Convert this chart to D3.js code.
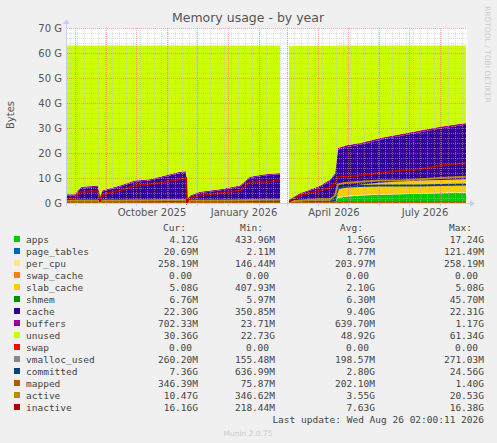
<!DOCTYPE html>
<html><head><meta charset="utf-8">
<script src="https://cdn.jsdelivr.net/npm/d3@7"></script>
<style>body{margin:0;background:#f0f0f0}</style>
</head><body><div id="app"></div>
<script>
// sample dates, null marks the gap in the data
const dates = ['2025-07-24','2025-08-01','2025-08-06','2025-08-08','2025-08-24','2025-08-26','2025-08-28','2025-09-15','2025-09-30','2025-10-15','2025-10-30','2025-11-14','2025-11-20','2025-11-21','2025-11-24','2025-12-04','2025-12-24','2026-01-13','2026-01-23','2026-02-07','2026-02-22',
  null,
  '2026-03-03','2026-03-14','2026-04-03','2026-04-13','2026-04-18','2026-04-21','2026-04-28','2026-05-13','2026-06-02','2026-06-22','2026-07-12','2026-08-01','2026-08-27'];

// values in GB, same order as dates
const apps        = [.3,.3,.3,.3,.3,.3,.3,.3,.3,.3,.3,.3,.3,.3,.3,.3,.3,.3,.3,.3,.3, null, .3,.3,.3,.3,.4,2,2.5,3,3.3,3.5,3.7,3.9,4.12];
const page_tables = [.02,.02,.02,.02,.02,.02,.02,.02,.02,.02,.02,.02,.02,.02,.02,.02,.02,.02,.02,.02,.02, null, .02,.02,.02,.02,.02,.02,.02,.02,.02,.02,.02,.02,.02];
const per_cpu     = [.15,.15,.15,.15,.15,.15,.15,.15,.15,.15,.15,.15,.15,.15,.15,.15,.15,.15,.15,.15,.15, null, .2,.2,.2,.2,.2,.26,.26,.26,.26,.26,.26,.26,.26];
const swap_cache  = [0,0,0,0,0,0,0,0,0,0,0,0,0,0,0,0,0,0,0,0,0, null, 0,0,0,0,0,0,0,0,0,0,0,0,0];
const slab_cache  = [.5,.5,.5,.5,.5,.5,.5,.5,.5,.5,.5,.5,.5,.5,.5,.5,.5,.5,.5,.5,.5, null, .5,.5,.6,.6,1,3,3.5,4,4.5,4.8,5,5,5.08];
const shmem       = [.01,.01,.01,.01,.01,.01,.01,.01,.01,.01,.01,.01,.01,.01,.01,.01,.01,.01,.01,.01,.01, null, .01,.01,.01,.01,.01,.01,.01,.01,.01,.01,.01,.01,.01];
const cache       = [2,2,4.5,5,5.5,0,3.5,5.5,7.5,8,9.5,11,11.2,0,1.5,3,4,5.5,9,10,10.5, null, .1,2.4,5.3,7.8,9.7,16,16,16,17.2,18.2,19.3,20.6,21.8];
const buffers     = [.5,.5,.5,.5,.5,.5,.5,.5,.5,.5,.5,.5,.5,.5,.5,.5,.5,.5,.5,.5,.5, null, .3,.5,.5,.5,.6,.7,.7,.7,.7,.7,.7,.7,.7];
const unused      = [59.5,59.5,57,56.5,56,61.5,58,56,54,53.5,52,50.5,50.3,61.5,60,58.5,57.5,56,52.5,51.5,51, null, 61.5,59,56,53.5,51,41,40,39,37,35.5,34,32.5,31];

const swap         = [0,0,0,0,0,0,0,0,0,0,0,0,0,0,0,0,0,0,0,0,0, null, 0,0,0,0,0,0,0,0,0,0,0,0,0];
const vmalloc_used = [.2,.2,.2,.2,.2,.2,.2,.2,.2,.2,.2,.2,.2,.2,.2,.2,.2,.2,.2,.2,.2, null, .2,.2,.2,.2,.2,.25,.25,.25,.25,.25,.26,.26,.26];
const committed    = [.3,.3,.3,.3,.3,.1,.3,.3,.3,.5,.5,.6,.6,.1,.4,.4,.4,.5,.5,.7,.8, null, .2,.3,.5,.6,1,6,6.5,6.8,7,7,7,7.2,7.36];
const mapped       = [.2,.2,.2,.2,.2,.1,.2,.2,.2,.2,.2,.2,.2,.1,.2,.2,.2,.2,.2,.2,.2, null, .1,.2,.2,.2,.2,.3,.3,.3,.3,.3,.35,.35,.35];
const active       = [1,1,1,1,1,.3,1,1,1.1,1.1,1.2,1.2,1.2,.3,1,1,1,1.1,1.2,1.3,1.3, null, .5,1,1.5,1.5,3,7.5,8,8.5,9,9,9.5,10,10.5];
const inactive     = [1.5,2,4.5,4.5,4.8,.5,3.5,5,7,7.5,8.5,9.5,10,.3,2,3,4,5,8.5,8.5,9, null, .5,3,5,6,8,10.5,10.5,11,12,13,13.5,15,16];

const areaNames = ['apps','page_tables','per_cpu','swap_cache','slab_cache','shmem','cache','buffers','unused'];
const areaVals = [apps,page_tables,per_cpu,swap_cache,slab_cache,shmem,cache,buffers,unused];
const lineNames = ['swap','vmalloc_used','committed','mapped','active','inactive'];
const lineVals = [swap,vmalloc_used,committed,mapped,active,inactive];
const colors = {apps:'#00cc00',page_tables:'#0066b3',per_cpu:'#ffe680',swap_cache:'#ff8000',slab_cache:'#ffcc00',shmem:'#008f00',cache:'#330099',buffers:'#990099',unused:'#ccff00',swap:'#ff0000',vmalloc_used:'#888888',committed:'#00457a',mapped:'#b35a00',active:'#b38f00',inactive:'#b30000'};

const legendNames = ['apps','page_tables','per_cpu','swap_cache','slab_cache','shmem','cache','buffers','unused','swap','vmalloc_used','committed','mapped','active','inactive'];
const curCol = ['4.12G','20.69M','258.19M','0.00','5.08G','6.76M','22.30G','702.33M','30.36G','0.00','260.20M','7.36G','346.39M','10.47G','16.16G'];
const minCol = ['433.96M','2.11M','146.44M','0.00','407.93M','5.97M','350.85M','23.71M','22.73G','0.00','155.48M','636.99M','75.87M','346.62M','218.44M'];
const avgCol = ['1.56G','8.77M','203.97M','0.00','2.10G','6.30M','9.40G','639.70M','48.92G','0.00','198.57M','2.80G','202.10M','3.55G','7.63G'];
const maxCol = ['17.24G','121.49M','258.19M','0.00','5.08G','45.70M','22.31G','1.17G','61.34G','0.00','271.03M','24.56G','1.40G','20.53G','16.38G'];
const yTicks = [0,10,20,30,40,50,60,70];
const xLabels = ['2025-10-01','2026-01-01','2026-04-01','2026-07-01'];

const W = 497, H = 443, pl = 67, pr = 467, pt = 28, pb = 203;
const parse = d3.timeParse('%Y-%m-%d');
const rows = dates.map((d, i) => {
  const r = {date: d ? parse(d) : null};
  areaNames.forEach((n, k) => r[n] = areaVals[k][i]);
  lineNames.forEach((n, k) => r[n] = lineVals[k][i]);
  return r;
});

const x = d3.scaleTime().domain([parse('2025-07-24'), parse('2026-08-28')]).range([pl, pr]);
const y = d3.scaleLinear().domain([0, 70]).range([pb, pt]);

const svg = d3.select('#app').append('svg').attr('width', W).attr('height', H)
  .style('font-family', 'DejaVu Sans');
svg.append('rect').attr('width', W).attr('height', H).attr('fill', '#f0f0f0');
svg.append('rect').attr('x', pl).attr('y', pt).attr('width', pr - pl).attr('height', pb - pt).attr('fill', '#fff');

// stacked areas
const stack = d3.stack().keys(areaNames).value((d, k) => d[k] == null ? 0 : d[k]);
const series = stack(rows);
const area = d3.area().defined(d => d.data.date)
  .x(d => x(d.data.date)).y0(d => y(d[0])).y1(d => y(d[1]));
svg.selectAll('.a').data(series).enter().append('path')
  .attr('d', area).attr('fill', d => colors[d.key]);

lineNames.forEach(n => {
  const line = d3.line().defined(d => d.date).x(d => x(d.date)).y(d => y(d[n]));
  svg.append('path').datum(rows).attr('d', line).attr('fill', 'none')
    .attr('stroke', colors[n]).attr('stroke-width', 2);
});

// grid drawn over the graph, like rrdtool
for (let v = 2; v <= 70; v += 2) {
  svg.append('line').attr('x1', pl).attr('x2', pr).attr('y1', y(v) + .5).attr('y2', y(v) + .5)
    .attr('stroke', v % 10 ? '#bbb' : '#e07070').attr('stroke-opacity', v % 10 ? .5 : .6).attr('stroke-dasharray', '1,1');
}
d3.timeWeek.range(x.domain()[0], x.domain()[1]).forEach(d => {
  svg.append('line').attr('x1', Math.round(x(d)) + .5).attr('x2', Math.round(x(d)) + .5).attr('y1', pt).attr('y2', pb)
    .attr('stroke', '#bbb').attr('stroke-opacity', .5).attr('stroke-dasharray', '1,1');
});
d3.timeMonth.range(x.domain()[0], x.domain()[1]).forEach(d => {
  svg.append('line').attr('x1', Math.round(x(d)) + .5).attr('x2', Math.round(x(d)) + .5).attr('y1', pt).attr('y2', pb)
    .attr('stroke', '#e07070').attr('stroke-opacity', .6).attr('stroke-dasharray', '1,1');
});

// axes
svg.append('line').attr('x1', pl).attr('x2', pr + 5).attr('y1', pb + .5).attr('y2', pb + .5).attr('stroke', '#c8d0ee');
svg.append('line').attr('x1', pl - .5).attr('x2', pl - .5).attr('y1', pb + 3).attr('y2', pt - 6).attr('stroke', '#c8d0ee');
svg.append('path').attr('d', `M${pr + 3},${pb - 3}L${pr + 8},${pb + .5}L${pr + 3},${pb + 4}Z`).attr('fill', '#c8d0ee');
svg.append('path').attr('d', `M${pl - 4},${pt - 4}L${pl - .5},${pt - 9}L${pl + 3},${pt - 4}Z`).attr('fill', '#c8d0ee');
d3.timeMonth.range(x.domain()[0], x.domain()[1]).forEach(d => {
  svg.append('line').attr('x1', Math.round(x(d)) + .5).attr('x2', Math.round(x(d)) + .5).attr('y1', pb).attr('y2', pb + 3).attr('stroke', '#c8d0ee');
});

svg.selectAll('.yt').data(yTicks).enter().append('text')
  .attr('x', pl - 5).attr('y', d => y(d) + 4).attr('text-anchor', 'end')
  .attr('font-size', 10).attr('fill', '#555').text(d => d + ' G');
const fmt = d3.timeFormat('%B %Y');
svg.selectAll('.xt').data(xLabels).enter().append('text')
  .attr('x', d => x(parse(d)) + 16).attr('y', pb + 13).attr('text-anchor', 'middle')
  .attr('font-size', 10).attr('fill', '#555').text(d => fmt(parse(d)));

svg.append('text').attr('x', 248).attr('y', 22).attr('text-anchor', 'middle').attr('font-size', 12.5).attr('fill', '#555').text('Memory usage - by year');
svg.append('text').attr('transform', 'translate(14,115) rotate(-90)').attr('text-anchor', 'middle').attr('font-size', 10).attr('fill', '#555').text('Bytes');
svg.append('text').attr('transform', 'translate(485,6) rotate(90)').attr('font-size', 7.5).attr('fill', '#ccc').text('RRDTOOL / TOBI OETIKER');

// legend
const mono = 'DejaVu Sans Mono';
const cols = [[curCol, 198, 'Cur:'], [minCol, 275, 'Min:'], [avgCol, 375, 'Avg:'], [maxCol, 484, 'Max:']];
cols.forEach(([vals, xr, h]) => {
  svg.append('text').attr('x', xr - 12).attr('y', 231).attr('text-anchor', 'end').attr('font-family', mono).attr('font-size', 9.5).attr('fill', '#444').text(h);
});
legendNames.forEach((n, i) => {
  const yy = 243 + i * 12;
  svg.append('rect').attr('x', 14).attr('y', yy - 7).attr('width', 6).attr('height', 6).attr('fill', colors[n]);
  svg.append('text').attr('x', 26).attr('y', yy).attr('font-family', mono).attr('font-size', 9.5).attr('fill', '#444').text(n);
  cols.forEach(([vals, xr]) => {
    svg.append('text').attr('x', xr - (vals[i] === '0.00' ? 6 : 0)).attr('y', yy).attr('text-anchor', 'end').attr('font-family', mono).attr('font-size', 9.5).attr('fill', '#444').text(vals[i]);
  });
});
svg.append('text').attr('x', 484).attr('y', 423).attr('text-anchor', 'end').attr('font-family', mono).attr('font-size', 9.5).attr('fill', '#444').text('Last update: Wed Aug 26 02:00:11 2026');
svg.append('text').attr('x', 248).attr('y', 436).attr('text-anchor', 'middle').attr('font-size', 7.5).attr('fill', '#ccc').text('Munin 2.0.75');
</script></body></html>
